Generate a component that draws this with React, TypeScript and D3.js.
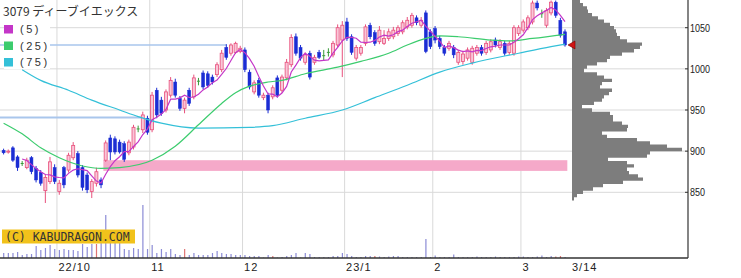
import React from 'react';
import * as d3 from 'd3';

const W = 741;
const H = 278;

const title = '3079 ディーブイエックス';
const monthLabels = ['22/10', '11', '12', '23/1', '2', '3'];
const monthStart = [12, 32, 52, 74, 93, 112];
const endLabel = '3/14';
const priceTicks = [850, 900, 950, 1000, 1050];
const legendLabels = ['(5)', '(25)', '(75)'];
const copyright = '(C) KABUDRAGON.COM';

const opens = [901,899,904,893,885,880,892,879,874,852,863,880,851,880,877,892,897,880,871,851,861,865,889,916,915,911,909,898,905,927,926,940,926,974,962,950,968,984,964,952,974,966,985,995,994,990,993,999,1026,1019,1020,1021,1023,996,972,986,965,968,966,989,974,989,1005,1039,1026,1008,1019,1008,1020,1016,1020,1017,1029,1035,1057,1039,1013,1019,1031,1053,1044,1033,1031,1037,1039,1043,1045,1051,1053,1062,1053,1068,1045,1049,1037,1026,1025,1026,1008,1009,1013,1008,1019,1026,1020,1023,1035,1026,1031,1020,1019,1043,1047,1050,1057,1080,1067,1053,1068,1081,1059,1045];
const highs = [903,902,906,895,888,892,894,882,877,872,893,884,865,882,898,911,900,883,874,866,880,868,913,920,918,914,912,914,932,931,948,943,972,977,966,975,990,988,967,965,977,993,989,998,997,993,1008,1023,1030,1031,1033,1028,1026,999,986,989,971,971,980,992,993,1012,1042,1043,1029,1020,1022,1017,1023,1023,1025,1034,1054,1058,1062,1042,1029,1029,1054,1056,1047,1052,1047,1049,1051,1053,1059,1063,1068,1065,1063,1071,1048,1052,1040,1029,1034,1029,1023,1022,1026,1028,1029,1029,1034,1036,1038,1036,1034,1034,1053,1053,1060,1065,1083,1083,1072,1074,1083,1083,1062,1048];
const lows = [896,897,887,876,882,878,872,862,858,837,860,860,847,855,874,889,868,852,849,843,857,855,887,889,896,897,887,895,902,923,922,920,923,940,943,947,965,965,949,946,955,963,980,975,977,981,990,996,1011,1016,1018,1019,996,975,969,965,962,946,963,965,971,986,1002,1016,1010,1005,987,1005,1012,1010,1015,1014,1026,990,1034,1017,1010,1016,1028,1036,1028,1030,1029,1034,1036,1040,1042,1048,1050,1053,1050,1019,1024,1031,1024,1016,1022,1013,1005,1005,1010,1005,1016,1016,1017,1020,1026,1023,1016,1017,1016,1040,1044,1047,1054,1071,1062,1050,1065,1062,1038,1027];
const closes = [898,900,889,880,885,889,875,865,861,868,887,863,861,859,895,907,871,856,853,863,875,859,910,899,899,899,890,911,929,927,944,923,968,944,946,972,986,968,952,962,958,989,985,978,980,984,1005,1019,1014,1029,1031,1025,999,978,983,968,968,950,977,968,990,1008,1038,1019,1013,1017,990,1014,1014,1016,1020,1031,1050,1053,1037,1020,1026,1026,1051,1039,1031,1047,1037,1045,1047,1050,1056,1059,1065,1056,1059,1021,1027,1035,1027,1019,1031,1017,1020,1018,1023,1025,1026,1019,1031,1033,1029,1033,1019,1031,1050,1050,1057,1062,1080,1074,1067,1071,1081,1065,1041,1029];

const volumes = [50,50,50,60,30,40,40,120,80,100,130,90,80,90,80,80,70,140,110,140,140,170,430,160,160,150,90,80,100,90,530,90,130,50,90,60,90,40,30,90,30,50,30,30,30,50,70,50,40,40,30,30,30,20,20,20,5,30,20,5,10,20,30,50,5,50,40,10,10,10,10,20,20,50,40,20,10,10,20,20,20,15,10,15,20,20,10,10,10,10,10,190,10,25,10,10,10,35,10,10,10,10,15,10,10,10,15,10,10,10,10,15,15,10,10,15,25,10,20,15,20,10];
const redVolumeDays = [20, 39, 58, 80, 119, 120];

const ma25Idx = [0,4,8,12,17,21,25,32,37,42,47,50,53,57,60,65,72,77,83,87,91,94,98,105,109,114,121];
const ma25Val = [934,921,904,892,882,879,880,889,906,932,958,971,979,984,986,994,1002,1009,1019,1029,1037,1040,1039,1035,1034,1037,1042];
const ma75Idx = [4,8,14,19,25,29,34,42,53,58,65,73,80,87,94,101,111,118,121];
const ma75Val = [999,986,974,962,950,942,934,928,929,931,940,950,965,980,996,1007,1019,1027,1030];

const levelPrices = [1029, 941];
const levelEnds = [48, 30];
const bandLow = 876;
const bandHigh = 889;
const bandStart = 22;

const profileTop = 1084;
const profileStep = 4;
const profileVol = [8,11,15,16,20,26,32,38,42,44,45,48,55,70,68,62,50,38,35,25,15,12,25,32,40,30,28,40,37,32,30,22,10,20,38,41,41,50,56,55,30,35,65,78,95,110,78,75,36,55,62,55,57,66,71,51,31,21,11,5,2];

const UP_FILL = '#f9c6d8';
const UP_STROKE = '#e8507c';
const DOWN = '#1b2dd4';
const DOJI = '#3a9a3a';
const MA5_C = '#c436c8';
const MA25_C = '#3ccc6e';
const MA75_C = '#34c0d8';

export default function App() {
  const n = closes.length;
  const x = d3.scaleLinear().domain([0, n - 1]).range([3.6, 565]);
  const half = (x(1) - x(0)) / 2;
  const y = d3.scaleLinear().domain([850, 1050]).range([192.3, 27.7]);
  const vy = d3.scaleLinear().domain([0, 530]).range([258, 205]);
  const px = d3.scaleLinear().domain([0, 115]).range([572, 687]);
  const axisX = 688;
  const baseY = 258;

  const ma5 = closes.map((_, i) => (i >= 4 ? d3.mean(closes.slice(i - 4, i + 1)) as number : null));
  const ma5Line = d3.line<number | null>()
    .defined((d) => d !== null)
    .x((_, i) => x(i))
    .y((d) => y(d as number));
  const knotLine = d3.line<[number, number]>()
    .x((d) => x(d[0]))
    .y((d) => y(d[1]))
    .curve(d3.curveMonotoneX);
  const ma25Pts = ma25Idx.map((v, i) => [v, ma25Val[i]] as [number, number]);
  const ma75Pts = ma75Idx.map((v, i) => [v, ma75Val[i]] as [number, number]);

  // volume profile as one stepped path
  let prof = `M${px(0)},${y(profileTop)}`;
  profileVol.forEach((v, k) => {
    const t = profileTop - k * profileStep;
    prof += ` L${px(v)},${y(t)} L${px(v)},${y(t - profileStep)}`;
  });
  prof += ` L${px(0)},${y(profileTop - profileVol.length * profileStep)} Z`;

  const font = "'Liberation Sans', Arial, sans-serif";
  const jp = "'Noto Sans CJK JP', sans-serif";
  const lastClose = closes[n - 1];

  return (
    <svg width={W} height={H} style={{ position: 'absolute', left: 0, top: 0, background: '#fff' }}>
      <rect x={0} y={0} width={W} height={H} fill="#fff" />
      {priceTicks.map((t) => (
        <line key={'h' + t} x1={0} x2={axisX} y1={y(t)} y2={y(t)} stroke="#d9d9d9" strokeWidth={1} />
      ))}
      {monthStart.map((m) => (
        <line key={'v' + m} x1={x(m) - half} x2={x(m) - half} y1={0} y2={baseY} stroke="#d9d9d9" strokeWidth={1} />
      ))}
      <rect x={x(bandStart) - half} y={y(bandHigh)} width={x(n - 1) + half - (x(bandStart) - half)} height={y(bandLow) - y(bandHigh)} fill="#f5a9c9" />
      {levelPrices.map((p, i) => (
        <line key={'l' + i} x1={0} x2={x(levelEnds[i])} y1={y(p)} y2={y(p)} stroke="#a9c6ec" strokeWidth={i === 0 ? 1.3 : 2} />
      ))}
      {volumes.map((v, i) => (
        <rect key={'vol' + i} x={x(i) - 0.5} y={vy(v)} width={1.2} height={baseY - vy(v)}
          fill={redVolumeDays.includes(i) ? '#e07575' : '#8c8cd6'} />
      ))}
      {closes.map((c, i) => {
        const o = opens[i];
        const up = c > o;
        const doji = c === o;
        const col = doji ? DOJI : up ? UP_STROKE : DOWN;
        const top = y(Math.max(o, c));
        const bot = y(Math.min(o, c));
        return (
          <g key={'c' + i}>
            <line x1={x(i)} x2={x(i)} y1={y(highs[i])} y2={y(lows[i])} stroke={col} strokeWidth={1} />
            {doji ? (
              <line x1={x(i) - 1.5} x2={x(i) + 1.5} y1={top} y2={top} stroke={col} strokeWidth={1} />
            ) : (
              <rect x={x(i) - 1.5} y={top} width={3} height={Math.max(1, bot - top)}
                fill={up ? UP_FILL : DOWN} stroke={col} strokeWidth={up ? 0.8 : 0.5} />
            )}
          </g>
        );
      })}
      <path d={knotLine(ma75Pts) || ''} fill="none" stroke={MA75_C} strokeWidth={1.2} />
      <path d={knotLine(ma25Pts) || ''} fill="none" stroke={MA25_C} strokeWidth={1.2} />
      <path d={ma5Line(ma5) || ''} fill="none" stroke={MA5_C} strokeWidth={1.2} />
      <path d={prof} fill="#7d7d7d" stroke="none" />
      <path d={`M${x(n - 1) + 3},${y(lastClose)} L${x(n - 1) + 10},${y(lastClose) - 4} L${x(n - 1) + 10},${y(lastClose) + 4} Z`} fill="#d01515" stroke="#7a0000" strokeWidth={0.6} />
      <line x1={0} x2={axisX} y1={baseY} y2={baseY} stroke="#333" strokeWidth={1.5} />
      <line x1={axisX} x2={axisX} y1={0} y2={baseY} stroke="#333" strokeWidth={1.2} />
      {priceTicks.map((t) => (
        <g key={'yt' + t}>
          <line x1={axisX - 3} x2={axisX} y1={y(t)} y2={y(t)} stroke="#333" />
          <text x={axisX + 2} y={y(t) + 3.8} fontSize={10.5} fontFamily={font} fill="#222"
            textLength={String(t).length * 5} lengthAdjust="spacingAndGlyphs">{t}</text>
        </g>
      ))}
      {monthStart.map((m, i) => (
        <text key={'xt' + m} x={x(m) - half + 1.5} y={270.5} fontSize={11} fontFamily={font} fill="#222" letterSpacing={1}>{monthLabels[i]}</text>
      ))}
      <text x={x(n - 1) + 7} y={270.5} fontSize={11} fontFamily={font} fill="#222" letterSpacing={1}>{endLabel}</text>
      <text x={3} y={16} fontSize={12} fontFamily={jp} fill="#333">{title}</text>
      {[MA5_C, MA25_C, MA75_C].map((c, i) => {
        const cy = 29 + i * 16.5;
        return (
          <g key={'lg' + i}>
            <rect x={4} y={cy - 7} width={46} height={14} fill="#fff" />
            <rect x={4} y={cy - 4} width={9} height={8.5} fill={c} />
            <text x={20} y={cy + 4} fontSize={11} fontFamily={font} fill="#333" letterSpacing={2.5}>{legendLabels[i]}</text>
          </g>
        );
      })}
      <rect x={2} y={229.5} width={133} height={14} fill="#f1c21b" />
      <text x={5} y={240.5} fontSize={11.5} fontFamily="'DejaVu Sans Mono', monospace" fill="#333">{copyright}</text>
    </svg>
  );
}
